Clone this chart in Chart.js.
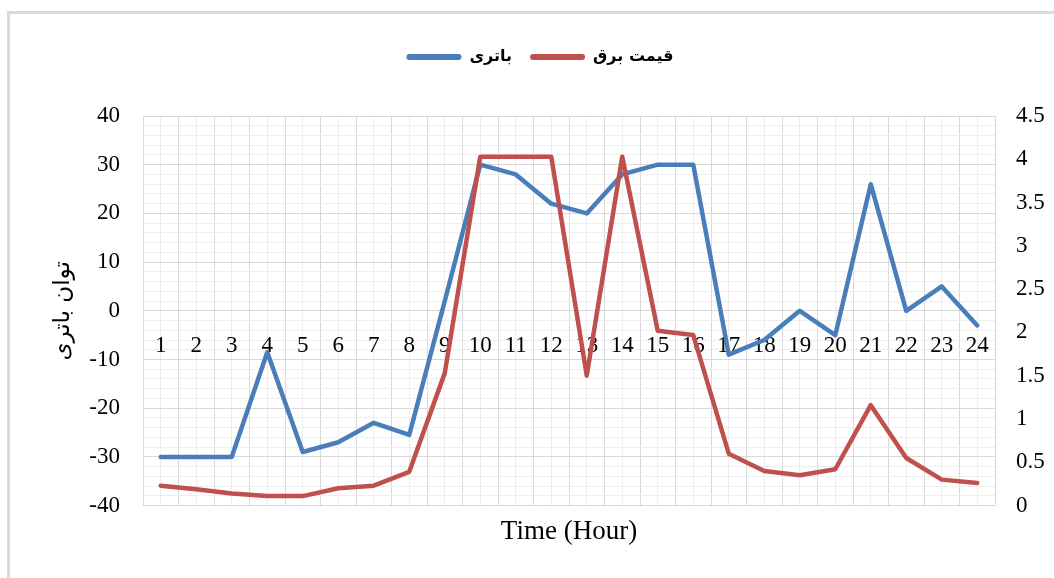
<!DOCTYPE html>
<html>
<head>
<meta charset="utf-8">
<script src="https://cdn.jsdelivr.net/npm/chart.js@4/dist/chart.umd.min.js"></script>
<style>
  html, body { margin: 0; padding: 0; background: #fff; }
  #frame {
    position: absolute; left: 7px; top: 11px; width: 1060px; height: 580px;
    border-left: 3px solid #d9d9d9; border-top: 3px solid #d9d9d9;
  }
  #wrap { position: absolute; left: 0; top: 0; width: 1054px; height: 578px; }
</style>
</head>
<body>
<div id="frame"></div>
<div id="wrap"><canvas id="c" width="1054" height="578"></canvas></div>
<script>
// Hours of the day
const hours = ['1','2','3','4','5','6','7','8','9','10','11','12','13','14','15','16','17','18','19','20','21','22','23','24'];
// Battery power (left axis)
const batteryPower = [-30, -30, -30, -8.5, -29, -27, -23, -25.5, 2, 30, 28, 22, 20, 28, 30, 30, -9, -6, 0, -5, 26, 0, 5, -3];
// Electricity price (right axis)
const electricityPrice = [0.23, 0.19, 0.14, 0.11, 0.11, 0.2, 0.23, 0.39, 1.53, 4.03, 4.03, 4.03, 1.5, 4.03, 2.02, 1.97, 0.6, 0.4, 0.35, 0.42, 1.16, 0.55, 0.3, 0.26];
// Axis tick values
const leftTicks = [-40, -30, -20, -10, 0, 10, 20, 30, 40];
const rightTicks = [0, 0.5, 1, 1.5, 2, 2.5, 3, 3.5, 4, 4.5];

const MAJOR = '#d9d9d9';
const MINOR = '#eeeeee';
const SERIF = "'Liberation Serif', 'Times New Roman', serif";
const ARABIC = "'DejaVu Sans', sans-serif";

new Chart(document.getElementById('c'), {
  type: 'line',
  data: {
    labels: hours,
    datasets: [
      {
        label: 'باتری',
        data: batteryPower,
        yAxisID: 'y',
        xAxisID: 'x',
        borderColor: '#4a7ebb',
        backgroundColor: '#4a7ebb',
        borderWidth: 4.5,
        pointRadius: 0,
        borderJoinStyle: 'round',
        borderCapStyle: 'round',
        tension: 0,
        order: 2
      },
      {
        label: 'قیمت برق',
        data: electricityPrice,
        yAxisID: 'y1',
        xAxisID: 'x',
        borderColor: '#c0504d',
        backgroundColor: '#c0504d',
        borderWidth: 4.5,
        pointRadius: 0,
        borderJoinStyle: 'round',
        borderCapStyle: 'round',
        tension: 0,
        order: 1
      }
    ]
  },
  options: {
    responsive: false,
    animation: false,
    layout: { padding: { top: 31, left: 26, right: 0, bottom: 30 } },
    plugins: {
      tooltip: { enabled: false },
      legend: {
        position: 'top',
        labels: {
          boxWidth: 55,
          boxHeight: 6,
          useBorderRadius: true,
          borderRadius: 3,
          padding: 18,
          color: '#000',
          font: { family: ARABIC, size: 16, weight: 'bold' },
          sort: (a, b) => a.datasetIndex - b.datasetIndex,
          generateLabels(chart) {
            return chart.data.datasets.map((ds, i) => ({
              text: ds.label,
              fillStyle: ds.borderColor,
              strokeStyle: ds.borderColor,
              lineWidth: 0,
              borderRadius: 3,
              hidden: false,
              datasetIndex: i
            }));
          }
        }
      },
      // empty spacer box between the legend and the plot
      subtitle: {
        display: true,
        text: ' ',
        position: 'top',
        weight: 500,
        font: { size: 1, lineHeight: 1 },
        padding: { top: 0, bottom: 40 }
      }
    },
    scales: {
      x: {
        type: 'category',
        position: { y: 0 },
        offset: true,
        grid: {
          offset: true,
          color: MAJOR,
          lineWidth: 1,
          drawTicks: true,
          tickLength: 21,
          tickColor: 'rgba(0,0,0,0)'
        },
        border: { display: true, color: MAJOR, width: 1 },
        ticks: {
          color: '#000',
          padding: 0,
          maxRotation: 0,
          autoSkip: false,
          font: { family: SERIF, size: 23 }
        }
      },
      xMinor: {
        type: 'category',
        position: 'bottom',
        offset: true,
        grid: { offset: false, color: MINOR, lineWidth: 1, drawTicks: false },
        border: { display: false },
        ticks: { display: false },
        title: {
          display: true,
          text: 'Time (Hour)',
          color: '#000',
          padding: { top: 10, bottom: 0 },
          font: { family: SERIF, size: 27 }
        }
      },
      y: {
        type: 'linear',
        position: 'left',
        min: leftTicks[0],
        max: leftTicks[leftTicks.length - 1],
        afterBuildTicks(scale) {
          const t = [];
          for (let v = scale.min; v <= scale.max; v += 2) t.push({ value: v });
          scale.ticks = t;
        },
        afterFit(scale) { scale.width = 117; },
        grid: {
          color: ctx => (leftTicks.includes(ctx.tick.value) ? MAJOR : MINOR),
          lineWidth: 1,
          drawTicks: false
        },
        border: { display: false },
        ticks: {
          autoSkip: false,
          padding: 23,
          color: '#000',
          font: { family: SERIF, size: 23 },
          callback: v => (leftTicks.includes(v) ? String(v) : '')
        },
        title: {
          display: true,
          text: 'توان باتری',
          color: '#000',
          padding: { top: 23, bottom: 0 },
          font: { family: ARABIC, size: 23 }
        }
      },
      y1: {
        type: 'linear',
        position: 'right',
        min: rightTicks[0],
        max: rightTicks[rightTicks.length - 1],
        afterBuildTicks(scale) {
          scale.ticks = rightTicks.map(v => ({ value: v }));
        },
        afterFit(scale) { scale.width = 59; },
        grid: { drawOnChartArea: false, drawTicks: false },
        border: { display: false },
        ticks: {
          padding: 21,
          color: '#000',
          font: { family: SERIF, size: 23 },
          callback: v => String(v)
        }
      }
    }
  }
});
</script>
</body>
</html>
